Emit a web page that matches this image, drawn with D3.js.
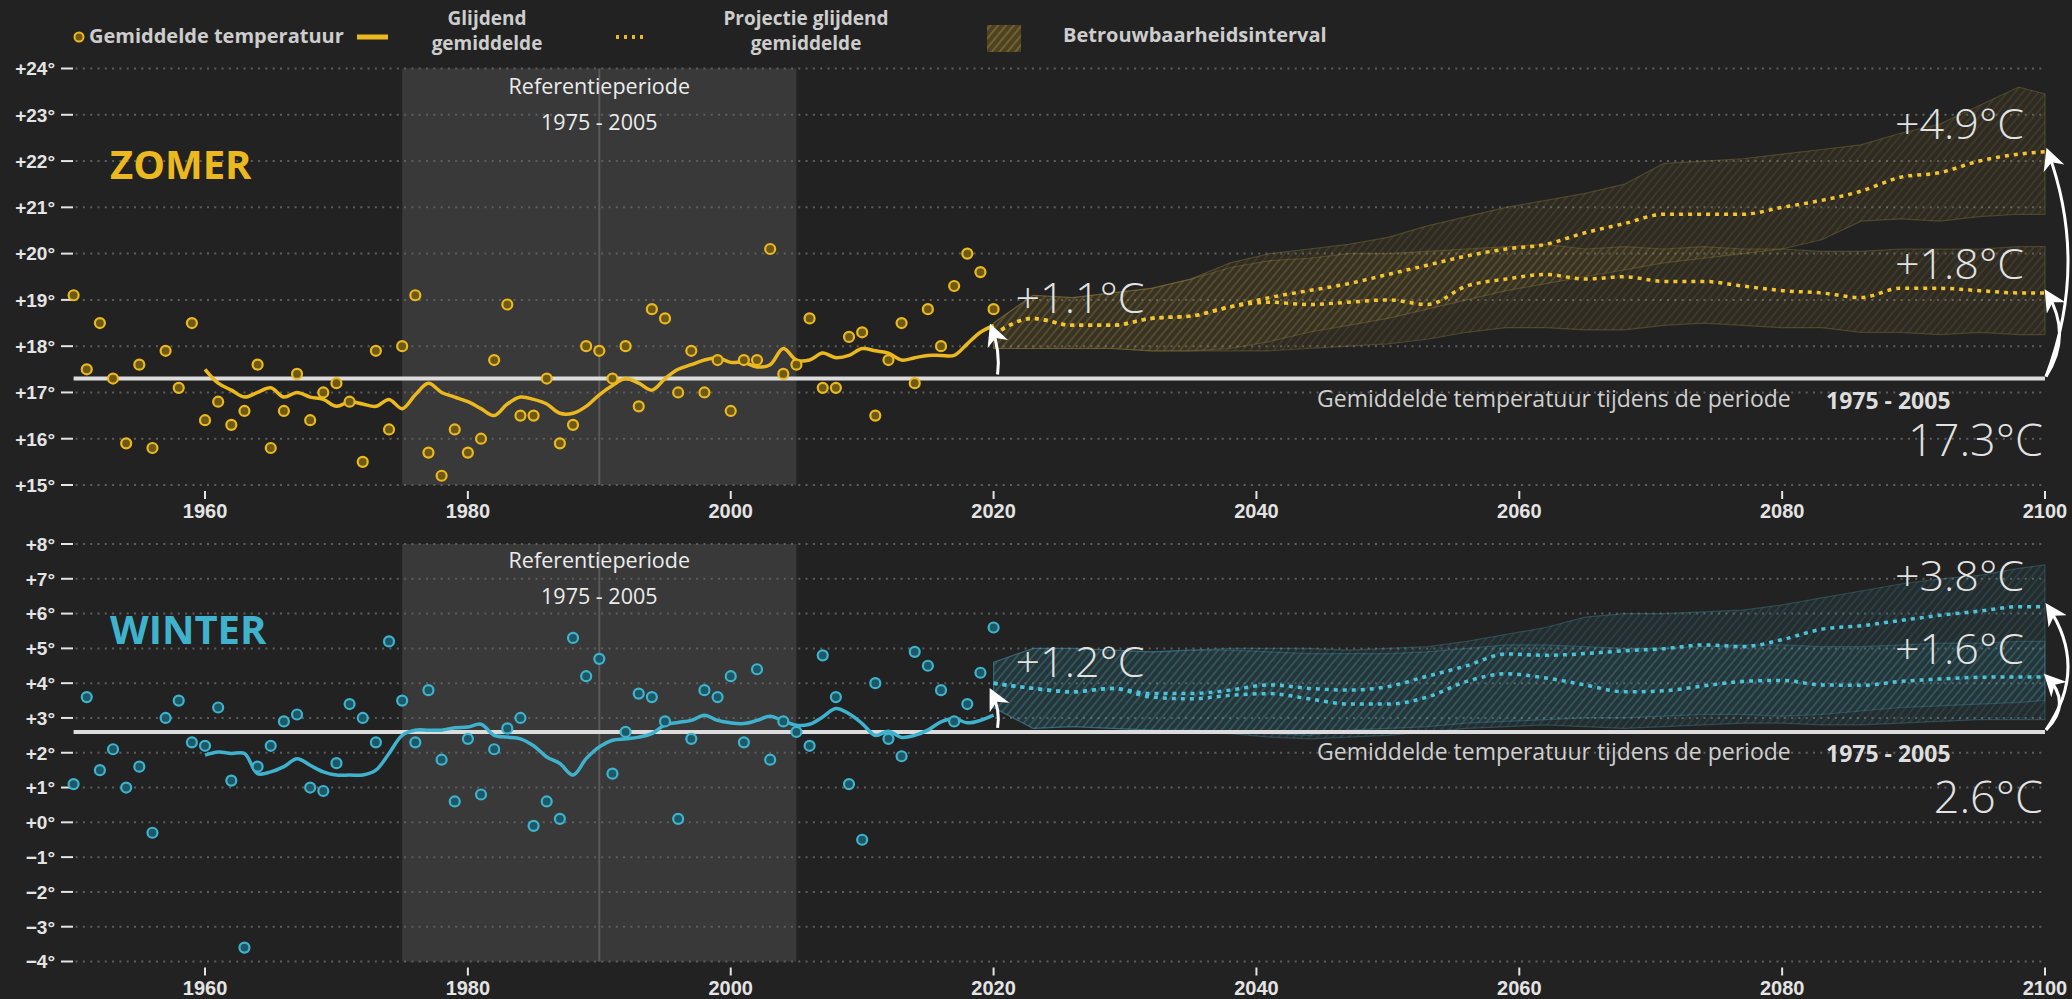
<!DOCTYPE html>
<html><head><meta charset="utf-8">
<script src="https://cdn.jsdelivr.net/npm/d3@7"></script>
<style>
html,body{margin:0;padding:0;background:#222222;}
svg{display:block;}
</style></head>
<body>
<svg id="chart" width="2072" height="999"></svg>
<script>
// ---------------- DATA ----------------
const obsYears = d3.range(1950, 2021);
const summerObs = [19.1,17.5,18.5,17.3,15.9,17.6,15.8,17.9,17.1,18.5,
  16.4,16.8,16.3,16.6,17.6,15.8,16.6,17.4,16.4,17.0,
  17.2,16.8,15.5,17.9,16.2,18.0,19.1,15.7,15.2,16.2,
  15.7,16.0,17.7,18.9,16.5,16.5,17.3,15.9,16.3,18.0,
  17.9,17.3,18.0,16.7,18.8,18.6,17.0,17.9,17.0,17.7,
  16.6,17.7,17.7,20.1,17.4,17.6,18.6,17.1,17.1,18.2,
  18.3,16.5,17.7,18.5,17.2,18.8,18.0,19.3,20.0,19.6,18.8];
const winterObs = [1.1,3.6,1.5,2.1,1.0,1.6,-0.3,3.0,3.5,2.3,
  2.2,3.3,1.2,-3.6,1.6,2.2,2.9,3.1,1.0,0.9,
  1.7,3.4,3.0,2.3,5.2,3.5,2.3,3.8,1.8,0.6,
  2.4,0.8,2.1,2.7,3.0,-0.1,0.6,0.1,5.3,4.2,
  4.7,1.4,2.6,3.7,3.6,2.9,0.1,2.4,3.8,3.6,
  4.2,2.3,4.4,1.8,2.9,2.6,2.2,4.8,3.6,1.1,
  -0.5,4.0,2.4,1.9,4.9,4.5,3.8,2.9,3.4,4.3,5.6];

const smoothYears = d3.range(1960, 2021);
const summerSmooth = [17.5,17.2,17.05,16.9,17.0,17.1,16.9,17.0,16.9,16.85,
  16.7,16.8,16.75,16.7,16.85,16.65,16.95,17.2,17.0,16.9,
  16.8,16.65,16.5,16.75,16.9,16.85,16.75,16.55,16.55,16.7,
  16.95,17.15,17.3,17.2,17.05,17.3,17.5,17.6,17.7,17.75,
  17.65,17.65,17.55,17.6,17.95,17.7,17.7,17.85,17.75,17.8,
  17.95,17.9,17.85,17.7,17.75,17.8,17.8,17.8,18.05,18.3,18.45];
const winterSmooth = [1.93,2.02,1.98,1.98,1.4,1.45,1.6,1.83,1.64,1.45,
  1.36,1.36,1.36,1.5,1.98,2.5,2.65,2.65,2.65,2.72,
  2.74,2.82,2.5,2.45,2.4,2.2,1.88,1.69,1.36,1.83,
  2.17,2.36,2.4,2.45,2.55,2.8,2.87,2.93,3.08,2.93,
  2.86,2.84,2.93,3.05,2.91,2.79,2.82,3.03,3.27,3.12,
  2.84,2.5,2.62,2.44,2.5,2.65,2.89,2.98,2.86,2.93,3.08];

const projYears = [2020,2023,2026,2029,2032,2035,2038,2041,2044,2047,2050,2053,2056,2059,2062,2065,2068,2071,2074,2077,2080,2083,2086,2089,2092,2095,2098,2100];
const summerHighMean = [18.25,18.6,18.45,18.45,18.6,18.65,18.85,19.05,19.2,19.35,19.55,19.75,19.95,20.1,20.2,20.45,20.65,20.85,20.85,20.85,21.0,21.15,21.35,21.65,21.75,22.0,22.15,22.2];
const summerHighUpper = [18.5,19.1,19.05,19.15,19.25,19.45,19.8,20.0,20.1,20.2,20.35,20.6,20.8,21.0,21.15,21.3,21.5,21.95,22.0,22.05,22.15,22.25,22.35,22.6,22.8,23.2,23.6,23.45];
const summerHighLower = [17.95,17.95,17.95,17.95,17.9,17.9,17.95,18.1,18.3,18.45,18.6,18.8,19.0,19.2,19.35,19.5,19.65,19.8,19.9,20.0,20.1,20.3,20.7,20.75,20.7,20.8,20.85,20.85];
const summerLowMean = [18.25,18.6,18.45,18.45,18.6,18.65,18.85,18.95,18.9,18.95,19.0,18.9,19.3,19.45,19.55,19.45,19.5,19.4,19.4,19.3,19.2,19.15,19.05,19.25,19.25,19.2,19.15,19.15];
const summerLowUpper = [18.5,19.1,19.05,19.15,19.25,19.45,19.7,19.85,19.9,20.0,20.0,20.05,20.1,20.15,20.2,20.1,20.15,20.1,20.15,20.1,20.1,20.05,20.05,20.1,20.1,20.1,20.15,20.15];
const summerLowLower = [17.95,17.95,17.95,17.95,17.9,17.9,17.9,17.9,17.95,18.0,18.05,18.15,18.3,18.4,18.4,18.35,18.35,18.45,18.5,18.45,18.4,18.4,18.3,18.3,18.25,18.3,18.25,18.25];

const winterHighMean = [4.0,3.85,3.75,3.85,3.7,3.7,3.8,3.95,3.85,3.8,3.9,4.2,4.5,4.84,4.8,4.85,4.93,4.99,5.1,5.05,5.25,5.55,5.65,5.8,5.95,6.07,6.2,6.2];
const winterHighUpper = [4.6,5.0,5.0,4.95,4.9,4.95,5.0,5.0,5.0,4.95,5.0,5.05,5.2,5.4,5.6,5.9,6.0,6.0,6.05,6.1,6.25,6.45,6.65,6.85,7.0,7.1,7.3,7.4];
const winterHighLower = [3.3,2.7,2.75,2.7,2.65,2.65,2.6,2.55,2.5,2.65,2.7,2.75,2.85,2.9,2.95,3.0,3.0,3.05,3.1,3.1,3.05,3.1,3.2,3.3,3.35,3.4,3.45,3.5];
const winterLowMean = [4.0,3.85,3.75,3.85,3.6,3.55,3.65,3.7,3.55,3.4,3.4,3.6,4.05,4.27,4.15,3.95,3.75,3.78,3.92,4.05,4.08,3.95,3.94,4.05,4.12,4.17,4.18,4.18];
const winterLowUpper = [4.6,5.0,5.0,4.95,4.9,4.95,4.95,4.9,4.85,4.85,4.85,4.9,5.0,5.1,5.1,5.05,5.0,5.0,5.05,5.1,5.1,5.05,5.05,5.1,5.15,5.15,5.2,5.2];
const winterLowLower = [3.3,2.7,2.75,2.7,2.65,2.6,2.55,2.45,2.4,2.45,2.5,2.6,2.7,2.75,2.8,2.75,2.7,2.75,2.8,2.85,2.85,2.8,2.8,2.85,2.9,2.95,2.95,2.95];

const xTicks = [1960,1980,2000,2020,2040,2060,2080,2100];
const summerYTicks = [15,16,17,18,19,20,21,22,23,24];
const winterYTicks = [-4,-3,-2,-1,0,1,2,3,4,5,6,7,8];
const refPeriod = [1975, 2005];
const summerRefMean = 17.3, winterRefMean = 2.6;
const summerDeltas = {now:"+1.1°C", low:"+1.8°C", high:"+4.9°C"};
const winterDeltas = {now:"+1.2°C", low:"+1.6°C", high:"+3.8°C"};

// ---------------- SETUP ----------------
const svg = d3.select("#chart");
const BG = "#222222";
svg.append("rect").attr("width",2072).attr("height",999).attr("fill",BG);
const defs = svg.append("defs");

function hatch(id, fill, line){
  const p = defs.append("pattern").attr("id",id).attr("patternUnits","userSpaceOnUse")
    .attr("width",6).attr("height",6).attr("patternTransform","rotate(40)");
  p.append("rect").attr("width",6).attr("height",6).attr("fill",fill);
  p.append("line").attr("x1",1).attr("y1",0).attr("x2",1).attr("y2",6).attr("stroke",line).attr("stroke-width",1.5);
}
hatch("hatchS","rgba(140,115,45,0.10)","rgba(170,140,60,0.20)");
hatch("hatchW","rgba(50,130,150,0.10)","rgba(80,170,190,0.20)");
hatch("hatchLegend","#4d4222","#7f6d33");

const mk = defs.append("marker").attr("id","arrowHead").attr("viewBox","0 0 10 10")
  .attr("refX",8).attr("refY",5).attr("markerUnits","userSpaceOnUse")
  .attr("markerWidth",22).attr("markerHeight",22).attr("orient","auto");
mk.append("path").attr("d","M0,0 L10,5 L0,10 L3,5 Z").attr("fill","#ffffff");

const x = d3.scaleLinear().domain([1950,2100]).range([73.6,2045]);

const LABEL_FONT = "'Liberation Sans', Arial, sans-serif";
const TEXT_FONT = "'Open Sans', 'Noto Sans', sans-serif";

function drawPanel(cfg){
  const y = d3.scaleLinear().domain(cfg.domain).range(cfg.range);
  const g = svg.append("g");
  const yTop = y(cfg.domain[1]), yBot = y(cfg.domain[0]);
  // reference shading
  g.append("rect").attr("x",x(refPeriod[0])).attr("y",yTop)
    .attr("width",x(refPeriod[1])-x(refPeriod[0])).attr("height",yBot-yTop).attr("fill","#393939");
  // gridlines
  g.selectAll(".grid").data(cfg.yTicks).join("line")
    .attr("x1",x(1950)+2).attr("x2",x(2100)).attr("y1",d=>y(d)).attr("y2",d=>y(d))
    .attr("stroke","#5e5e5e").attr("stroke-width",2).attr("stroke-dasharray","2 5.3");
  // y axis labels + ticks
  g.selectAll(".ylab").data(cfg.yTicks).join("text")
    .attr("x",55).attr("y",d=>y(d)).attr("dy","0.36em").attr("text-anchor","end")
    .attr("font-family",LABEL_FONT).attr("font-weight","bold").attr("font-size",19)
    .attr("fill","#e4e4e4").text(d=>(d<0?"\u2212"+Math.abs(d):"+"+d)+"°");
  g.selectAll(".ytick").data(cfg.yTicks).join("line")
    .attr("x1",61).attr("x2",73).attr("y1",d=>y(d)).attr("y2",d=>y(d))
    .attr("stroke","#e4e4e4").attr("stroke-width",2);
  // x axis
  g.selectAll(".xtick").data(xTicks).join("line")
    .attr("x1",d=>x(d)).attr("x2",d=>x(d)).attr("y1",yBot+6).attr("y2",yBot+14)
    .attr("stroke","#e4e4e4").attr("stroke-width",2);
  g.selectAll(".xlab").data(xTicks).join("text")
    .attr("x",d=>x(d)).attr("y",yBot+33).attr("text-anchor","middle")
    .attr("font-family",LABEL_FONT).attr("font-weight","bold").attr("font-size",20)
    .attr("fill","#e4e4e4").text(d=>d);
  // 1990 line
  g.append("line").attr("x1",x(1990)).attr("x2",x(1990)).attr("y1",yTop).attr("y2",yBot)
    .attr("stroke","#5a5a5a").attr("stroke-width",2);
  // ref text
  g.append("text").attr("x",x(1990)).attr("y",yTop+cfg.refTextDy[0]).attr("text-anchor","middle")
    .attr("font-family",TEXT_FONT).attr("font-size",21.5).attr("fill","#ececec").text("Referentieperiode");
  g.append("text").attr("x",x(1990)).attr("y",yTop+cfg.refTextDy[1]).attr("text-anchor","middle")
    .attr("font-family",TEXT_FONT).attr("font-size",21.5).attr("fill","#ececec").text("1975 - 2005");
  // season title
  g.append("text").attr("x",110).attr("y",cfg.titleY).attr("font-family",TEXT_FONT)
    .attr("font-weight",700).attr("font-size",40).attr("fill",cfg.color).text(cfg.title);

  // bands
  const area = d3.area().x((d,i)=>x(projYears[i])).y0(d=>y(d[0])).y1(d=>y(d[1]));
  [[cfg.lowLower,cfg.lowUpper],[cfg.highLower,cfg.highUpper]].forEach(([lo,hi])=>{
    const data = lo.map((v,i)=>[v,hi[i]]);
    g.append("path").datum(data).attr("d",area).attr("fill",`url(#${cfg.hatch})`)
      .attr("stroke",cfg.bandEdge).attr("stroke-width",1.2);
  });

  // baseline
  g.append("line").attr("x1",x(1950)).attr("x2",x(2100)).attr("y1",y(cfg.refMean)).attr("y2",y(cfg.refMean))
    .attr("stroke","#dcdcdc").attr("stroke-width",4);

  // smoothed line
  const line = d3.line().x((d,i)=>x(smoothYears[i])).y(d=>y(d)).curve(d3.curveCatmullRom.alpha(0.5));
  g.append("path").datum(cfg.smooth).attr("d",line).attr("fill","none")
    .attr("stroke",cfg.color).attr("stroke-width",3.5);

  // points
  g.selectAll(".pt").data(cfg.obs).join("circle")
    .attr("cx",(d,i)=>x(obsYears[i])).attr("cy",d=>y(d)).attr("r",5)
    .attr("fill",cfg.ptFill).attr("stroke",cfg.color).attr("stroke-width",2.2);

  // projection lines
  const pline = d3.line().x((d,i)=>x(projYears[i])).y(d=>y(d)).curve(d3.curveMonotoneX);
  [cfg.lowMean, cfg.highMean].forEach(m=>{
    g.append("path").datum(m).attr("d",pline).attr("fill","none")
      .attr("stroke",cfg.dotColor).attr("stroke-width",3.5).attr("stroke-dasharray","4 5");
  });

  // arrows
  const arrow = (x0,y0,x1,y1,bulge)=>{
    const cx = (x0+x1)/2 + bulge, cy = (y0+y1)/2;
    g.append("path").attr("d",`M${x0},${y0} Q${cx},${cy} ${x1},${y1}`).attr("fill","none")
      .attr("stroke","#ffffff").attr("stroke-width",3).attr("marker-end","url(#arrowHead)");
  };
  arrow(x(2020)+4, y(cfg.refMean)-4, x(2020)-2, y(cfg.nowTip), 6);
  arrow(x(2100)+1, y(cfg.refMean)-2, x(2100)+3, y(cfg.highMean[cfg.highMean.length-1]), 42);
  arrow(x(2100)+1, y(cfg.refMean)-2, x(2100)+2, y(cfg.lowMean[cfg.lowMean.length-1]), 26);

  // annotations
  const big = (tx,ty,anchor,txt,size)=>g.append("text").attr("x",tx).attr("y",ty).attr("text-anchor",anchor)
    .attr("font-family",TEXT_FONT).attr("font-weight",300).attr("font-size",size||43).attr("fill","#e2e2e2").text(txt);
  big(x(2020)+22, y(cfg.nowTip)-cfg.nowDy, "start", cfg.deltas.now);
  big(2024, y(cfg.highMean[cfg.highMean.length-1])-cfg.highDy, "end", cfg.deltas.high);
  big(2024, y(cfg.lowMean[cfg.lowMean.length-1])-cfg.lowDy, "end", cfg.deltas.low);
  big(2043, y(cfg.refMean)+cfg.meanDy, "end", cfg.refMean.toFixed(1)+"°C", 45);
  g.append("text").attr("x",1317).attr("y",y(cfg.refMean)+28).attr("font-family",TEXT_FONT)
    .attr("font-size",23).attr("fill","#cfcfcf").text("Gemiddelde temperatuur tijdens de periode");
  g.append("text").attr("x",1826).attr("y",y(cfg.refMean)+30).attr("font-family",TEXT_FONT)
    .attr("font-weight",700).attr("font-size",23).attr("fill","#dedede").text("1975 - 2005");
}

drawPanel({domain:[15,24], range:[485,68.5], yTicks:summerYTicks, title:"ZOMER", titleY:179,
  color:"#ebb91f", ptFill:"#6e5a14", dotColor:"#f4c431", hatch:"hatchS", bandEdge:"rgba(150,128,60,0.35)",
  refTextDy:[25,61], obs:summerObs, smooth:summerSmooth, refMean:summerRefMean,
  lowMean:summerLowMean, lowUpper:summerLowUpper, lowLower:summerLowLower,
  highMean:summerHighMean, highUpper:summerHighUpper, highLower:summerHighLower,
  nowTip:18.4, deltas:summerDeltas, nowDy:15, highDy:13, lowDy:14, meanDy:77});

drawPanel({domain:[-4,8], range:[961.5,544], yTicks:winterYTicks, title:"WINTER", titleY:644,
  color:"#3fb3cd", ptFill:"#1d5866", dotColor:"#4cc3d8", hatch:"hatchW", bandEdge:"rgba(70,150,170,0.32)",
  refTextDy:[24,60], obs:winterObs, smooth:winterSmooth, refMean:winterRefMean,
  lowMean:winterLowMean, lowUpper:winterLowUpper, lowLower:winterLowLower,
  highMean:winterHighMean, highUpper:winterHighUpper, highLower:winterHighLower,
  nowTip:3.75, deltas:winterDeltas, nowDy:15, highDy:16, lowDy:13, meanDy:81});

// ---------------- LEGEND ----------------
const lg = svg.append("g").attr("font-family",TEXT_FONT).attr("font-weight",700).attr("font-size",20).attr("fill","#cdcdcd");
lg.append("circle").attr("cx",79).attr("cy",37).attr("r",4.5).attr("fill","#6e5a14").attr("stroke","#ebb91f").attr("stroke-width",2);
lg.append("text").attr("x",89).attr("y",43).text("Gemiddelde temperatuur");
lg.append("line").attr("x1",357).attr("x2",388).attr("y1",37).attr("y2",37).attr("stroke","#ebb91f").attr("stroke-width",5);
// two-line legend labels (tspan lines inside one text element)
function twoLine(cx, l1, l2){
  const t = lg.append("text").attr("x",cx).attr("y",25).attr("text-anchor","middle").attr("font-size",19);
  t.append("tspan").attr("x",cx).attr("y",25).text(l1);
  t.append("tspan").attr("x",cx).attr("y",50).text(l2);
}
twoLine(487, "Glijdend", "gemiddelde");
lg.append("line").attr("x1",616).attr("x2",645).attr("y1",37).attr("y2",37).attr("stroke","#ebb91f").attr("stroke-width",4).attr("stroke-dasharray","3 5");
twoLine(806, "Projectie glijdend", "gemiddelde");
lg.append("rect").attr("x",987).attr("y",25).attr("width",34).attr("height",27).attr("fill","url(#hatchLegend)");
lg.append("text").attr("x",1063).attr("y",42).text("Betrouwbaarheidsinterval");
</script>
</body></html>
